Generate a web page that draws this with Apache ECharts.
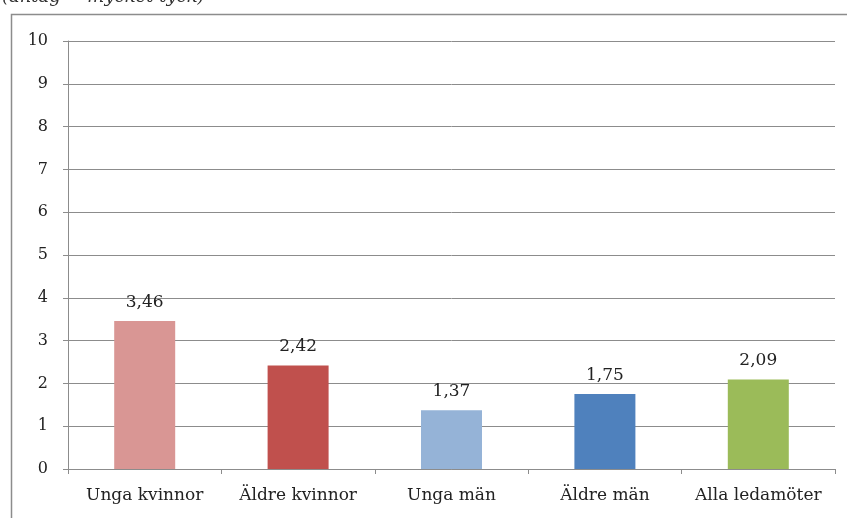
<!DOCTYPE html>
<html>
<head>
<meta charset="utf-8">
<script src="https://cdn.jsdelivr.net/npm/echarts@6/dist/echarts.min.js"></script>
<style>
    html, body { margin: 0; padding: 0; background: #fff; }
    #chart { width: 847px; height: 518px; }
</style>
</head>
<body>
<div id="chart"></div>
<script>
    var categories = ['Unga kvinnor', 'Äldre kvinnor', 'Unga män', 'Äldre män', 'Alla ledamöter'];
    var values = [3.46, 2.42, 1.37, 1.75, 2.09];
    var colors = ['#D99694', '#C0504D', '#95B3D7', '#4F81BD', '#9BBB59'];

    var myChart = echarts.init(document.getElementById('chart'));
    var font = '"DejaVu Serif", "Liberation Serif", serif';

    var option = {
        animation: false,
        textStyle: { fontFamily: font },
        graphic: [
            {
                type: 'text',
                left: 2,
                top: -12,
                style: { text: '(antag = mycket tyck)', fontFamily: font, fontSize: 18, fontStyle: 'italic', fill: '#333' }
            },
            {
                type: 'rect',
                shape: { x: 11.5, y: 14.5, width: 840, height: 520 },
                style: { fill: 'none', stroke: '#8c8c8c', lineWidth: 1.5 },
                z: -1
            }
        ],
        grid: { left: 68, top: 41, right: 12, bottom: 49 },
        xAxis: {
            type: 'category',
            data: categories,
            axisLine: { lineStyle: { color: '#8c8c8c' } },
            axisTick: { show: true, length: 5, lineStyle: { color: '#8c8c8c' } },
            axisLabel: { color: '#222', fontSize: 17, fontFamily: font, margin: 18, interval: 0, hideOverlap: false }
        },
        yAxis: {
            type: 'value',
            min: 0,
            max: 10,
            interval: 1,
            axisLine: { show: true, lineStyle: { color: '#8c8c8c' } },
            axisTick: { show: true, length: 5, lineStyle: { color: '#8c8c8c' } },
            axisLabel: { color: '#222', fontSize: 16, fontFamily: font, margin: 20 },
            splitLine: { lineStyle: { color: '#8c8c8c', width: 1 } }
        },
        series: [{
            type: 'bar',
            data: values.map(function (v, i) {
                return { value: v, itemStyle: { color: colors[i] } };
            }),
            barWidth: 61,
            label: {
                show: true,
                position: 'top',
                distance: 10,
                color: '#222',
                fontSize: 17,
                fontFamily: font,
                formatter: function (p) { return p.value.toFixed(2).replace('.', ','); }
            }
        }]
    };
    myChart.setOption(option, true);
</script>
</body>
</html>
